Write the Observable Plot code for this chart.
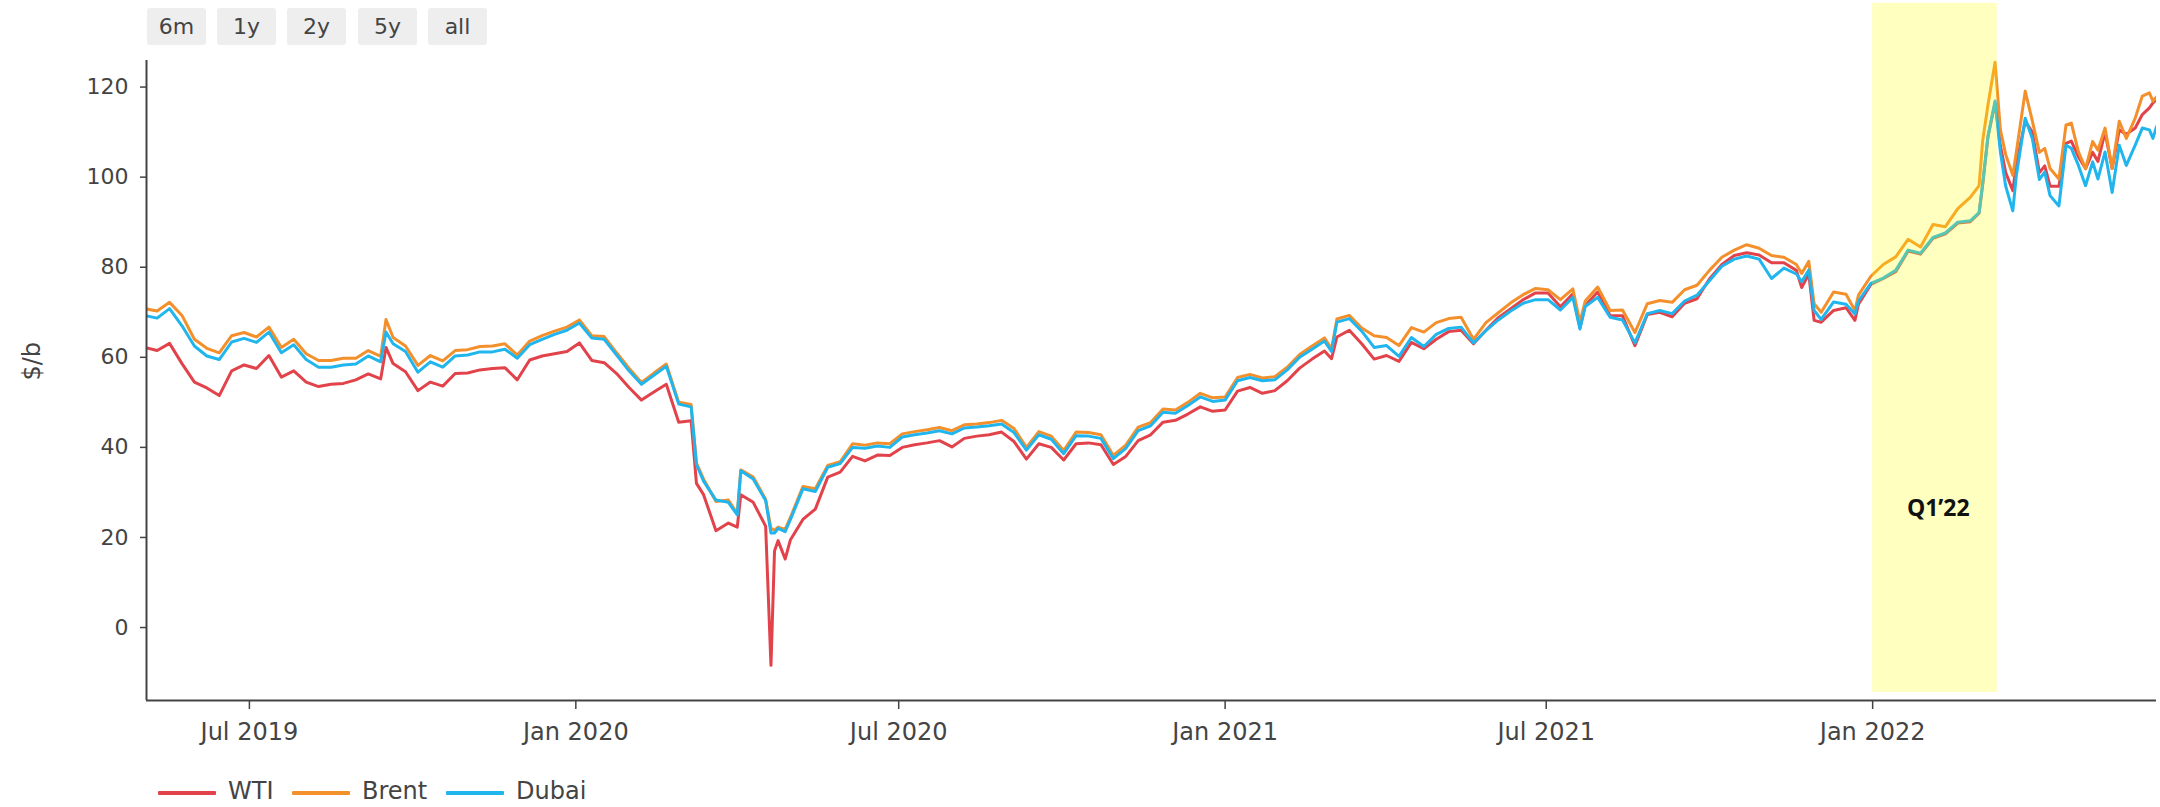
<!DOCTYPE html>
<html>
<head>
<meta charset="utf-8">
<script src="https://cdn.jsdelivr.net/npm/d3@7"></script>
<script src="https://cdn.jsdelivr.net/npm/@observablehq/plot@0.6"></script>
<style>
  html, body { margin: 0; padding: 0; background: #fff; }
  body { width: 2160px; height: 807px; overflow: hidden; position: relative; font-family: "DejaVu Sans", sans-serif; }
  #chart { position: absolute; left: 0; top: 0; }
  .btn { position: absolute; top: 8px; width: 59px; height: 37px; background: #eeeeee; border-radius: 3px;
         color: #444; font-size: 22px; line-height: 37px; text-align: center; }
  .legline { position: absolute; top: 791px; width: 58px; height: 4px; border-radius: 1px; }
  .legtext { position: absolute; top: 779px; font-size: 24px; line-height: 24px; color: #444; white-space: nowrap; }
</style>
</head>
<body>
<div id="chart"></div>
<div class="btn" style="left:147px">6m</div>
<div class="btn" style="left:217px">1y</div>
<div class="btn" style="left:287px">2y</div>
<div class="btn" style="left:358px">5y</div>
<div class="btn" style="left:428px">all</div>
<div id="legend"></div>
<script>
// ---- data ($/b) ----
const dates = [
"2019-05-03","2019-05-10","2019-05-17","2019-05-24","2019-05-31","2019-06-07","2019-06-14","2019-06-21","2019-06-28",
"2019-07-05","2019-07-12","2019-07-19","2019-07-26","2019-08-02","2019-08-09","2019-08-16","2019-08-23","2019-08-30",
"2019-09-06","2019-09-13","2019-09-16","2019-09-20","2019-09-27","2019-10-04","2019-10-11","2019-10-18","2019-10-25",
"2019-11-01","2019-11-08","2019-11-15","2019-11-22","2019-11-29","2019-12-06","2019-12-13","2019-12-20","2019-12-27",
"2020-01-03","2020-01-10","2020-01-17","2020-01-24","2020-01-31","2020-02-07","2020-02-14","2020-02-21","2020-02-28",
"2020-03-06","2020-03-09","2020-03-13","2020-03-20","2020-03-27","2020-04-01","2020-04-03","2020-04-10","2020-04-17",
"2020-04-20","2020-04-22","2020-04-24","2020-04-28","2020-05-01","2020-05-08","2020-05-15","2020-05-22","2020-05-29",
"2020-06-05","2020-06-12","2020-06-19","2020-06-26","2020-07-03","2020-07-10","2020-07-17","2020-07-24","2020-07-31",
"2020-08-07","2020-08-14","2020-08-21","2020-08-28","2020-09-04","2020-09-11","2020-09-18","2020-09-25","2020-10-02",
"2020-10-09","2020-10-16","2020-10-23","2020-10-30","2020-11-06","2020-11-13","2020-11-20","2020-11-27","2020-12-04",
"2020-12-11","2020-12-18","2020-12-25","2021-01-01","2021-01-08","2021-01-15","2021-01-22","2021-01-29","2021-02-05",
"2021-02-12","2021-02-19","2021-02-26","2021-03-02","2021-03-05","2021-03-12","2021-03-19","2021-03-26","2021-04-02",
"2021-04-09","2021-04-16","2021-04-23","2021-04-30","2021-05-07","2021-05-14","2021-05-21","2021-05-28","2021-06-04",
"2021-06-11","2021-06-18","2021-06-25","2021-07-02","2021-07-09","2021-07-16","2021-07-20","2021-07-23","2021-07-30",
"2021-08-06","2021-08-13","2021-08-20","2021-08-27","2021-09-03","2021-09-10","2021-09-17","2021-09-24","2021-10-01",
"2021-10-08","2021-10-15","2021-10-22","2021-10-29","2021-11-05","2021-11-12","2021-11-19","2021-11-22","2021-11-26",
"2021-11-29","2021-12-03","2021-12-10","2021-12-17","2021-12-22","2021-12-24","2021-12-31","2022-01-07","2022-01-14",
"2022-01-21","2022-01-28","2022-02-04","2022-02-11","2022-02-18","2022-02-25","2022-03-02","2022-03-04","2022-03-07",
"2022-03-11","2022-03-14","2022-03-17","2022-03-21","2022-03-23","2022-03-28","2022-04-01","2022-04-05","2022-04-08",
"2022-04-11","2022-04-16","2022-04-20","2022-04-23","2022-04-27","2022-05-01","2022-05-05","2022-05-08","2022-05-12",
"2022-05-16","2022-05-20","2022-05-24","2022-05-29","2022-06-02","2022-06-06","2022-06-08","2022-06-10"
];
const wti = [
62.2,61.5,63.1,58.6,54.5,53.2,51.5,57.0,58.3,
57.5,60.4,55.6,57.0,54.5,53.5,54.0,54.2,55.0,
56.3,55.2,62.2,58.6,56.8,52.6,54.5,53.6,56.4,
56.5,57.2,57.5,57.7,55.0,59.4,60.3,60.8,61.3,
63.2,59.3,58.8,56.4,53.3,50.5,52.3,54.0,45.6,
45.9,32.0,29.5,21.5,23.2,22.3,29.5,27.8,22.5,
-8.4,17.0,19.3,15.2,19.5,24.0,26.3,33.4,34.5,
38.0,37.0,38.3,38.2,40.0,40.6,41.0,41.5,40.1,
42.0,42.5,42.8,43.4,41.3,37.4,40.8,40.0,37.2,
40.8,41.0,40.6,36.2,38.0,41.5,42.8,45.6,46.0,
47.4,49.0,48.0,48.3,52.5,53.3,52.0,52.6,54.8,
57.6,59.6,61.4,59.7,64.5,66.0,63.0,59.6,60.4,
59.1,63.3,61.9,64.0,65.7,66.0,63.0,66.0,68.8,
70.8,72.8,74.3,74.3,71.2,74.1,66.6,71.5,74.5,
69.3,69.2,62.6,69.5,70.0,69.0,72.0,73.0,77.4,
80.6,82.6,83.2,82.7,81.0,81.0,79.3,75.5,78.5,
68.2,67.8,70.4,71.0,68.2,71.8,76.2,77.5,79.0,
83.6,82.9,86.4,87.4,89.8,90.1,92.0,98.3,109.0,
116.5,107.0,101.0,97.0,103.0,112.4,110.0,101.0,102.5,
98.0,98.0,107.5,108.0,104.5,101.9,105.5,103.5,110.0,
101.9,110.5,109.5,110.9,113.9,115.4,116.5,117.3
];
const brent = [
70.8,70.3,72.2,69.3,64.0,62.0,61.0,64.8,65.5,
64.5,66.7,62.2,64.0,60.8,59.3,59.3,59.8,59.8,
61.5,60.2,68.4,64.4,62.5,58.2,60.4,59.2,61.5,
61.7,62.4,62.5,63.0,60.5,63.6,64.8,65.8,66.7,
68.3,64.8,64.6,61.0,57.6,54.4,56.5,58.5,50.0,
49.5,36.5,33.0,28.0,28.3,25.3,35.0,33.4,28.5,
22.0,21.6,22.3,21.8,24.5,31.3,30.8,36.0,36.8,
40.8,40.5,41.0,40.8,43.0,43.5,43.9,44.4,43.7,
45.0,45.2,45.5,46.0,44.2,40.0,43.5,42.5,39.3,
43.4,43.3,42.8,38.2,40.5,44.5,45.5,48.5,48.3,
50.0,52.0,51.0,51.2,55.5,56.2,55.4,55.7,57.8,
60.6,62.5,64.3,61.9,68.5,69.3,66.5,64.8,64.4,
62.6,66.6,65.6,67.7,68.6,68.9,64.0,67.7,69.9,
72.1,73.9,75.3,75.0,72.8,75.2,67.8,72.5,75.6,
70.4,70.5,65.5,71.9,72.6,72.2,75.0,76.0,79.3,
82.2,83.8,85.0,84.2,82.6,82.2,80.6,78.6,81.3,
71.9,70.0,74.5,74.0,70.4,73.8,78.0,80.6,82.3,
86.2,84.5,89.5,89.0,93.0,95.5,98.1,108.0,116.0,
125.5,110.5,105.0,100.4,105.6,119.1,112.5,105.5,106.4,
101.9,99.6,111.6,112.0,105.6,101.9,107.9,106.0,110.9,
101.9,112.4,108.6,113.1,118.0,118.7,116.9,117.8
];
const dubai = [
69.3,68.7,70.8,67.0,62.5,60.3,59.5,63.4,64.2,
63.3,65.6,61.0,62.8,59.5,57.8,57.8,58.3,58.5,
60.3,59.0,65.6,63.0,61.3,56.7,59.0,57.8,60.3,
60.5,61.2,61.2,61.8,59.8,62.8,64.0,65.1,66.0,
67.6,64.3,64.0,60.5,57.0,54.0,56.0,58.0,49.6,
49.0,36.2,32.5,28.3,27.8,25.0,34.8,33.0,28.2,
21.0,21.0,22.0,21.3,24.0,30.8,30.2,35.6,36.4,
40.0,39.8,40.3,40.0,42.3,42.8,43.2,43.7,43.0,
44.3,44.5,44.8,45.2,43.3,39.4,42.8,41.8,38.6,
42.6,42.5,42.0,37.5,39.8,43.7,44.8,47.8,47.6,
49.3,51.2,50.2,50.5,54.8,55.5,54.8,55.0,57.2,
60.0,61.8,63.6,61.3,67.8,68.6,65.8,62.2,62.6,
60.2,64.4,62.4,65.1,66.4,66.7,63.2,65.9,68.3,
70.3,72.0,72.8,72.8,70.5,73.3,66.3,71.3,73.3,
68.9,68.3,63.2,69.7,70.4,69.7,72.5,73.8,77.0,
80.2,81.8,82.5,81.8,77.5,79.8,78.5,76.8,79.4,
70.4,68.4,72.3,71.8,69.6,72.5,76.4,77.6,79.3,
83.8,83.1,86.6,87.6,90.0,90.3,92.1,98.5,109.0,
116.9,105.6,98.0,92.5,100.4,113.1,108.6,99.5,101.1,
95.9,93.6,107.1,106.4,102.6,98.1,103.4,99.6,105.6,
96.6,107.1,102.6,107.1,110.9,110.5,108.6,111.2
];
const seriesNames = ["WTI", "Brent", "Dubai"];
const seriesColors = ["#e2434b", "#f4902c", "#21b5ee"];
const yTicks = [0, 20, 40, 60, 80, 100, 120];
const xTickDates = ["2019-07-01", "2020-01-01", "2020-07-01", "2021-01-01", "2021-07-01", "2022-01-01"];
const xDomain = ["2019-05-04", "2022-06-10"];
const yDomain = [-16.2, 125.9];
const band = {start: "2022-01-01", end: "2022-03-12T06:00:00Z", label: "Q1’22", labelDate: "2022-02-07", labelValue: 26.3, low: -14.4, high: 138.6};

// ---- build tidy table ----
const valuesBySeries = [wti, brent, dubai];
const rows = [];
seriesNames.forEach((name, s) => {
  dates.forEach((d, i) => rows.push({date: new Date(d), value: valuesBySeries[s][i], series: name}));
});

const chart = Plot.plot({
  width: 2160,
  height: 760,
  marginLeft: 146,
  marginRight: 4,
  marginTop: 60,
  marginBottom: 60,
  style: {fontFamily: "DejaVu Sans, sans-serif", color: "#444", background: "transparent", overflow: "visible"},
  x: {type: "utc", domain: xDomain.map(d => new Date(d))},
  y: {domain: yDomain},
  color: {domain: seriesNames, range: seriesColors},
  marks: [
    ...seriesNames.map(name => Plot.line(rows.filter(r => r.series === name), {
      x: "date", y: "value", stroke: "series", strokeWidth: 3, clip: true, strokeLinejoin: "round"
    })),
    Plot.rect([band], {
      x1: d => new Date(d.start), x2: d => new Date(d.end), y1: "low", y2: "high",
      fill: "#ffff00", fillOpacity: 0.25
    }),
    Plot.text([band], {
      x: d => new Date(d.labelDate), y: "labelValue", text: "label",
      fontFamily: "Open Sans, Noto Sans, sans-serif", fontWeight: "bold", fontSize: 23, fill: "#111"
    }),
    Plot.ruleY([yDomain[0]], {stroke: "#444", strokeWidth: 2}),
    Plot.ruleX([new Date(xDomain[0])], {stroke: "#444", strokeWidth: 2}),
    Plot.axisX({
      ticks: xTickDates.map(d => new Date(d)), tickFormat: d3.utcFormat("%b %Y"),
      tickSize: 9, tickPadding: 13, fontSize: 24, label: null, stroke: "#444", strokeWidth: 1.5, fill: "#444"
    }),
    Plot.axisY({
      ticks: yTicks, tickSize: 6, tickPadding: 12, fontSize: 22, label: null, stroke: "#444", strokeWidth: 1.5, fill: "#444"
    }),
    Plot.text(["$/b"], {frameAnchor: "left", dx: -114, rotate: -90, fontSize: 24, fill: "#444"})
  ]
});
document.getElementById("chart").appendChild(chart);

// ---- legend below ----
const legend = document.getElementById("legend");
const legLines = [158, 292, 446];
const legTexts = [228, 362, 516];
seriesNames.forEach((name, i) => {
  const l = document.createElement("div");
  l.className = "legline"; l.style.left = legLines[i] + "px"; l.style.background = seriesColors[i];
  const t = document.createElement("div");
  t.className = "legtext"; t.style.left = legTexts[i] + "px"; t.textContent = name;
  legend.appendChild(l); legend.appendChild(t);
});
</script>
</body>
</html>
